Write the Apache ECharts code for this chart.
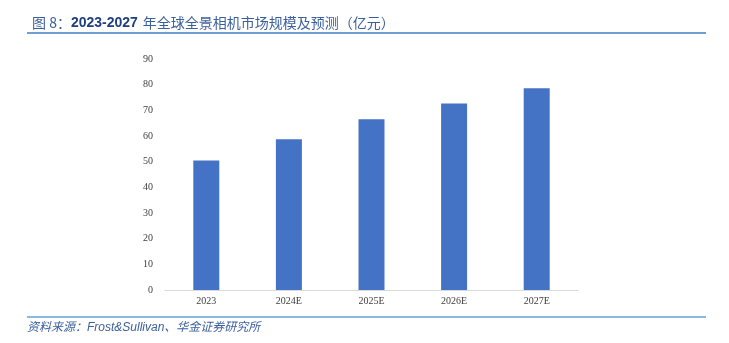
<!DOCTYPE html>
<html>
<head>
<meta charset="utf-8">
<script src="https://cdn.jsdelivr.net/npm/echarts@6/dist/echarts.min.js"></script>
<style>
  html, body { margin: 0; padding: 0; background: #fff; }
  #chart { width: 729px; height: 343px; }
</style>
</head>
<body>
<div id="chart"></div>
<script>
// Global panoramic camera market size, 2023 actual and 2024-2027 forecast (100 million yuan)
const years = ['2023', '2024E', '2025E', '2026E', '2027E'];
const marketSize = [50.5, 58.7, 66.5, 72.7, 78.6];
const yTicks = { min: 0, max: 90, step: 10 };

const chart = echarts.init(document.getElementById('chart'));
chart.setOption({
  animation: false,
  backgroundColor: '#ffffff',
  title: {
    text: '{a|图 8：}{b|2023-2027} {a|年全球全景相机市场规模及预测（亿元）}',
    left: 27,
    top: 9,
    textStyle: {
      fontWeight: 'normal',
      rich: {
        a: { fontFamily: 'Noto Sans CJK SC', fontSize: 14, fontWeight: 'normal', color: '#3a5f9e' },
        b: { fontFamily: 'Liberation Sans', fontSize: 14, fontWeight: 'bold', color: '#1f3f7f' }
      }
    }
  },
  graphic: [
    { type: 'line', shape: { x1: 27, y1: 33, x2: 706, y2: 33 }, style: { stroke: '#3d7fc1', lineWidth: 1.5 } },
    { type: 'line', shape: { x1: 27, y1: 317, x2: 706, y2: 317 }, style: { stroke: '#6aa1d3', lineWidth: 1.5 } },
    {
      type: 'text', left: 27, top: 322,
      style: {
        text: '资料来源：Frost&Sullivan、华金证券研究所',
        font: 'italic 12px "Liberation Sans", "Noto Sans CJK SC"',
        fill: '#3a5f9e'
      }
    }
  ],
  grid: { left: 165, right: 151, top: 59, bottom: 53 },
  xAxis: {
    type: 'category',
    data: years,
    axisLine: { lineStyle: { color: '#d9d9d9', width: 1 } },
    axisTick: { show: false },
    axisLabel: { color: '#404040', fontFamily: 'Liberation Serif', fontSize: 10, margin: 6 }
  },
  yAxis: {
    type: 'value',
    min: yTicks.min,
    max: yTicks.max,
    interval: yTicks.step,
    splitLine: { show: false },
    axisLine: { show: false },
    axisTick: { show: false },
    axisLabel: { color: '#404040', fontFamily: 'Liberation Serif', fontSize: 10, margin: 12 }
  },
  series: [{
    type: 'bar',
    data: marketSize,
    barWidth: 26,
    itemStyle: { color: '#4472c4' }
  }]
});
</script>
</body>
</html>
